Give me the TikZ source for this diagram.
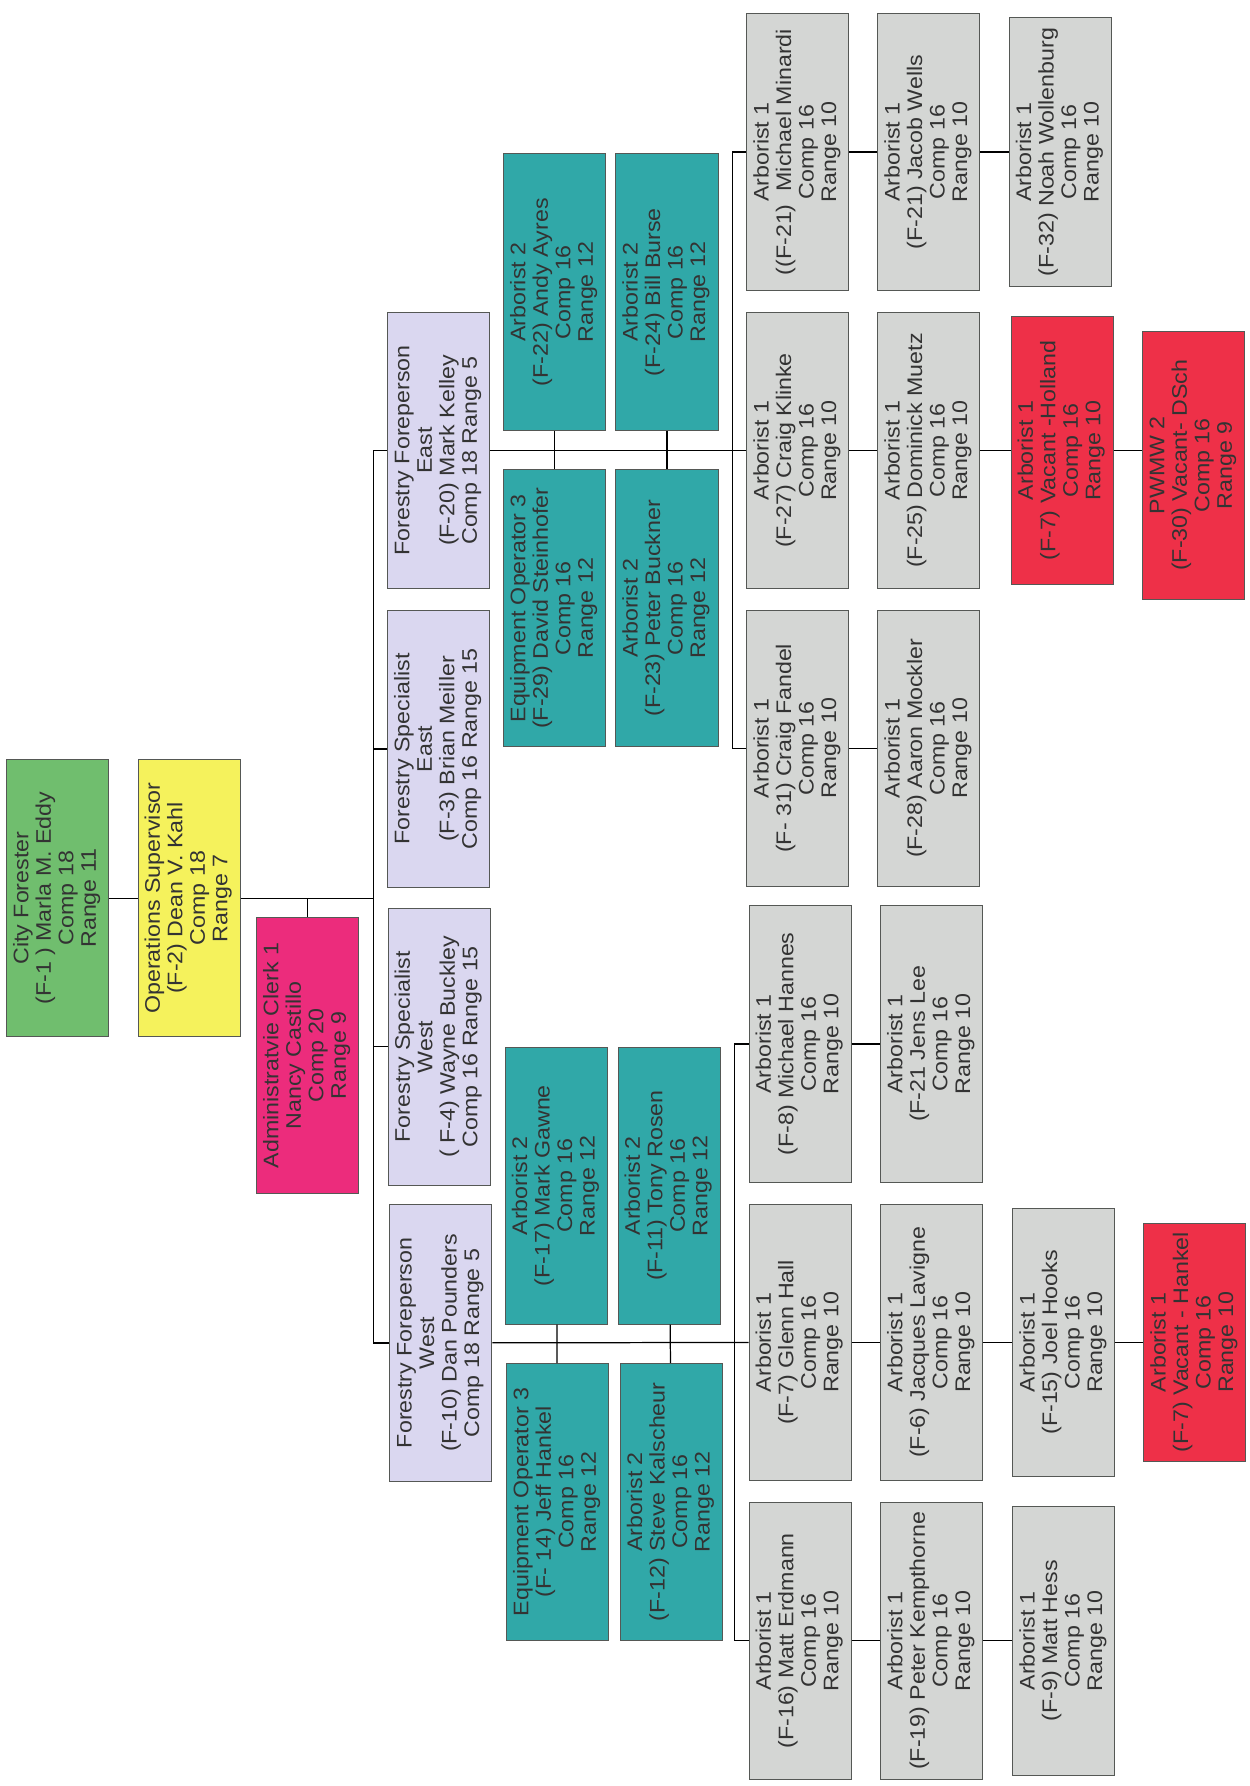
\documentclass[tikz,border=0pt]{standalone}
\usepackage{fontspec}
\setmainfont{Liberation Sans}[FakeStretch=1.1]
\usepackage{tikz}

\definecolor{forestgreen}{RGB}{112,190,110}
\definecolor{supyellow}{RGB}{245,242,92}
\definecolor{clerkpink}{RGB}{236,44,124}
\definecolor{leadlilac}{RGB}{218,215,240}
\definecolor{crewteal}{RGB}{48,168,168}
\definecolor{arbgray}{RGB}{212,214,212}
\definecolor{vacantred}{RGB}{238,48,72}
\definecolor{edgegray}{RGB}{85,88,85}

\newcommand{\vtext}[1]{\rotatebox{90}{\begin{tabular}{@{}c@{}}#1\end{tabular}}}

\tikzset{
  post/.style={draw=edgegray, line width=0.5pt, inner sep=0pt,
    minimum width=2.04cm, minimum height=5.53cm, text=black!80,
    font=\fontsize{12}{12.8}\selectfont},
  short/.style={minimum height=5.37cm},
  link/.style={draw=black, line width=0.7pt}
}

\begin{document}
\begin{tikzpicture}[x=0.02277cm, y=-0.02277cm]
    \useasboundingbox (0,0) rectangle (1097,1568);

    % top of the chart
    \node[post, fill=forestgreen] (city) at (50.5,788.5) {\vtext{City Forester\\(F-1 ) Marla M. Eddy\\Comp 18\\Range 11}};
    \node[post, fill=supyellow] (ops) at (166,788.5) {\vtext{Operations Supervisor\\(F-2) Dean V. Kahl\\Comp 18\\Range 7}};
    \node[post, fill=clerkpink] (clerk) at (270,926.5) {\vtext{Administratvie Clerk 1\\Nancy Castillo\\Comp 20\\Range 9}};

    % foreperson and specialist level
    \node[post, fill=leadlilac] (fpEast) at (385,395.5) {\vtext{Forestry Foreperson\\East\\(F-20) Mark Kelley\\Comp 18 Range 5}};
    \node[post, fill=leadlilac] (specEast) at (385,657.5) {\vtext{Forestry Specialist\\East\\(F-3) Brian Meiller\\Comp 16 Range 15}};
    \node[post, fill=leadlilac] (specWest) at (385.5,919) {\vtext{Forestry Specialist\\West\\( F-4) Wayne Buckley\\Comp 16 Range 15}};
    \node[post, fill=leadlilac] (fpWest) at (387,1179) {\vtext{Forestry Foreperson\\West\\(F-10) Dan Pounders\\Comp 18 Range 5}};

    % crew east
    \node[post, fill=crewteal] (ayres) at (487,256.5) {\vtext{Arborist 2\\(F-22) Andy Ayres\\Comp 16\\Range 12}};
    \node[post, fill=crewteal] (burse) at (585.5,256.5) {\vtext{Arborist 2\\(F-24) Bill Burse\\Comp 16\\Range 12}};
    \node[post, fill=crewteal] (steinhofer) at (487,534) {\vtext{Equipment Operator 3\\(F-29) David Steinhofer\\Comp 16\\Range 12}};
    \node[post, fill=crewteal] (buckner) at (585.5,534) {\vtext{Arborist 2\\(F-23) Peter Buckner\\Comp 16\\Range 12}};

    % crew west
    \node[post, fill=crewteal] (gawne) at (488.5,1041) {\vtext{Arborist 2\\(F-17) Mark Gawne\\Comp 16\\Range 12}};
    \node[post, fill=crewteal] (rosen) at (587.5,1041) {\vtext{Arborist 2\\(F-11) Tony Rosen\\Comp 16\\Range 12}};
    \node[post, fill=crewteal] (jhankel) at (489.5,1318.5) {\vtext{Equipment Operator 3\\(F- 14) Jeff Hankel\\Comp 16\\Range 12}};
    \node[post, fill=crewteal] (kalscheur) at (589.5,1318.5) {\vtext{Arborist 2\\(F-12) Steve Kalscheur\\Comp 16\\Range 12}};

    % arborists east
    \node[post, fill=arbgray] (minardi) at (700.5,133.5) {\vtext{Arborist 1\\((F-21)\ \ Michael Minardi\\Comp 16\\Range 10}};
    \node[post, fill=arbgray] (klinke) at (700.5,395.5) {\vtext{Arborist 1\\(F-27) Craig Klinke\\Comp 16\\Range 10}};
    \node[post, fill=arbgray] (fandel) at (700.5,657) {\vtext{Arborist 1\\(F- 31) Craig Fandel\\Comp 16\\Range 10}};
    \node[post, fill=arbgray] (wells) at (815.5,133.5) {\vtext{Arborist 1\\(F-21) Jacob Wells\\Comp 16\\Range 10}};
    \node[post, fill=arbgray] (muetz) at (815.5,395.5) {\vtext{Arborist 1\\(F-25) Dominick Muetz\\Comp 16\\Range 10}};
    \node[post, fill=arbgray] (mockler) at (815.5,657) {\vtext{Arborist 1\\(F-28) Aaron Mockler\\Comp 16\\Range 10}};
    \node[post, short, fill=arbgray] (wollenburg) at (931,133.5) {\vtext{Arborist 1\\(F-32) Noah Wollenburg\\Comp 16\\Range 10}};
    \node[post, short, fill=vacantred] (holland) at (932.5,395.5) {\vtext{Arborist 1\\(F-7) Vacant -Holland\\Comp 16\\Range 10}};
    \node[post, short, fill=vacantred] (pwmw) at (1048,408.5) {\vtext{PWMW 2\\(F-30) Vacant- DSch\\Comp 16\\Range 9}};

    % arborists west
    \node[post, fill=arbgray] (hannes) at (702.5,916.5) {\vtext{Arborist 1\\(F-8) Michael Hannes\\Comp 16\\Range 10}};
    \node[post, fill=arbgray] (hall) at (702.5,1178.5) {\vtext{Arborist 1\\(F-7) Glenn Hall\\Comp 16\\Range 10}};
    \node[post, fill=arbgray] (erdmann) at (702.5,1440.5) {\vtext{Arborist 1\\(F-16) Matt Erdmann\\Comp 16\\Range 10}};
    \node[post, fill=arbgray] (lee) at (818,916.5) {\vtext{Arborist 1\\(F-21 Jens Lee\\Comp 16\\Range 10}};
    \node[post, fill=arbgray] (lavigne) at (818,1178.5) {\vtext{Arborist 1\\(F-6) Jacques Lavigne\\Comp 16\\Range 10}};
    \node[post, fill=arbgray] (kempthorne) at (818,1440.5) {\vtext{Arborist 1\\(F-19) Peter Kempthorne\\Comp 16\\Range 10}};
    \node[post, short, fill=arbgray] (hooks) at (934,1178.5) {\vtext{Arborist 1\\(F-15) Joel Hooks\\Comp 16\\Range 10}};
    \node[post, short, fill=arbgray] (hess) at (934,1440.5) {\vtext{Arborist 1\\(F-9) Matt Hess\\Comp 16\\Range 10}};
    \node[post, fill=vacantred, minimum height=4.76cm] (vhankel) at (1049,1178.5) {\vtext{Arborist 1\\(F-7) Vacant - Hankel\\Comp 16\\Range 10}};

    % connectors
    \coordinate (hub) at (328,788.5);
    \coordinate (eastbus) at (643,395.5);
    \coordinate (westbus) at (645,1178.5);

    \draw[link] (city) -- (ops);
    \draw[link] (ops) -- (hub);
    \draw[link] (clerk.north) -- (clerk.north |- hub);
    \draw[link] (fpEast.west) -| (hub) |- (fpWest.west);
    \draw[link] (specEast.west -| hub) -- (specEast.west);
    \draw[link] (specWest.west -| hub) -- (specWest.west);

    \draw[link] (fpEast) -- (klinke);
    \draw[link] (ayres) -- (steinhofer);
    \draw[link] (burse) -- (buckner);
    \draw[link] (minardi.west) -| (eastbus) |- (fandel.west);
    \draw[link] (minardi) -- (wells) -- (wollenburg);
    \draw[link] (klinke) -- (muetz) -- (holland);
    \draw[link] (holland.east) -- (holland.east -| pwmw.west);
    \draw[link] (fandel) -- (mockler);

    \draw[link] (fpWest) -- (hall);
    \draw[link] (gawne) -- (jhankel);
    \draw[link] (rosen) -- (kalscheur);
    \draw[link] (hannes.west) -| (westbus) |- (erdmann.west);
    \draw[link] (hannes) -- (lee);
    \draw[link] (hall) -- (lavigne) -- (hooks) -- (vhankel);
    \draw[link] (erdmann) -- (kempthorne) -- (hess);

\end{tikzpicture}
\end{document}
